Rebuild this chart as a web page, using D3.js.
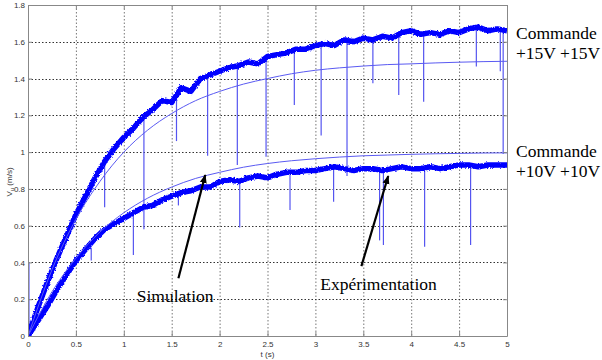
<!DOCTYPE html>
<html lang="en">
<head>
<meta charset="UTF-8">
<title>Vu response</title>
<script src="https://cdn.jsdelivr.net/npm/d3@7"></script>
</head>
<body style="margin:0; background:#fff">
<script>
// time base of the sampled traces (s)
const tExp = d3.range(0, 51).map(i => i / 10);
const tSim = d3.range(0, 21).map(i => i / 4);

// experimental traces, read every 0.1 s
const exp15 = [0.00, 0.15, 0.29, 0.42, 0.54, 0.66, 0.76, 0.86, 0.95, 1.02,
  1.08, 1.13, 1.19, 1.23, 1.28, 1.27, 1.35, 1.33, 1.40, 1.42,
  1.44, 1.46, 1.47, 1.49, 1.48, 1.52, 1.53, 1.54, 1.56, 1.56,
  1.58, 1.59, 1.58, 1.61, 1.60, 1.62, 1.61, 1.63, 1.62, 1.65,
  1.66, 1.64, 1.65, 1.64, 1.66, 1.65, 1.67, 1.68, 1.66, 1.67, 1.66];
const exp10 = [0.00, 0.08, 0.16, 0.25, 0.33, 0.41, 0.47, 0.53, 0.58, 0.61,
  0.64, 0.67, 0.70, 0.71, 0.74, 0.76, 0.78, 0.79, 0.81, 0.81,
  0.84, 0.85, 0.84, 0.86, 0.87, 0.86, 0.88, 0.89, 0.89, 0.90,
  0.90, 0.91, 0.92, 0.91, 0.90, 0.91, 0.91, 0.90, 0.91, 0.92,
  0.91, 0.91, 0.92, 0.91, 0.92, 0.93, 0.93, 0.92, 0.93, 0.93, 0.93];

// simulated traces, read every 0.25 s
const sim15 = [0, 0.36, 0.635, 0.84, 1.00, 1.12, 1.21, 1.28, 1.33, 1.37,
  1.40, 1.426, 1.445, 1.458, 1.468, 1.476, 1.48, 1.485, 1.489, 1.492, 1.494];
const sim10 = [0, 0.24, 0.423, 0.565, 0.67, 0.75, 0.81, 0.857, 0.89, 0.918,
  0.938, 0.953, 0.964, 0.973, 0.98, 0.984, 0.988, 0.991, 0.993, 0.995, 0.996];

// measurement glitches: [t, from, to]
const spikes15 = [[0.01, 0.40, 0.02], [0.80, 0.95, 0.70], [1.21, 1.19, 0.58], [1.55, 1.30, 1.06],
  [1.875, 1.42, 0.98], [2.185, 1.47, 0.93], [2.485, 1.52, 0.975], [2.78, 1.56, 1.256],
  [3.06, 1.59, 1.09], [3.33, 1.61, 0.87], [3.60, 1.62, 1.375], [3.87, 1.63, 1.31],
  [4.13, 1.65, 1.274], [4.68, 1.67, 1.465], [4.93, 1.67, 1.44], [4.96, 1.67, 0.99]];
const spikes10 = [[0.66, 0.48, 0.41], [1.10, 0.67, 0.44], [1.57, 0.78, 0.71], [2.21, 0.85, 0.59],
  [2.735, 0.89, 0.685], [3.19, 0.92, 0.73], [3.67, 0.91, 0.52], [3.71, 0.91, 0.495],
  [4.14, 0.92, 0.485], [4.62, 0.93, 0.495]];

const xTicks = [0, 0.5, 1, 1.5, 2, 2.5, 3, 3.5, 4, 4.5, 5];
const yTicks = [0, 0.2, 0.4, 0.6, 0.8, 1, 1.2, 1.4, 1.6, 1.8];

// annotations: arrow [t0, v0, t1, v1], text [t, v]
const arrows = [[1.57, 0.314, 1.85, 0.875], [3.48, 0.38, 3.76, 0.87]];
const notes = [["Simulation", 1.135, 0.185], ["Expérimentation", 3.05, 0.25]];
const sideLabels = [["Commande", 38.5], ["+15V +15V", 58.5], ["Commande", 157], ["+10V +10V", 177]];

const width = 602, height = 360;
const m = { left: 28, right: 95, top: 5, bottom: 24 };
const SANS = '"Liberation Sans", Arial, sans-serif';
const SERIF = '"Liberation Serif", "Times New Roman", serif';

const svg = d3.select("body").append("svg").attr("width", width).attr("height", height)
  .style("display", "block");

const x = d3.scaleLinear().domain([0, 5]).range([m.left, width - m.right]);
const y = d3.scaleLinear().domain([0, 1.8]).range([height - m.bottom, m.top]);

const defs = svg.append("defs");
defs.append("clipPath").attr("id", "plot")
  .append("rect").attr("x", x(0)).attr("y", y(1.8))
  .attr("width", x(5) - x(0)).attr("height", y(0) - y(1.8));

defs.append("marker").attr("id", "head")
  .attr("viewBox", "0 0 10 10").attr("refX", 9).attr("refY", 5)
  .attr("markerWidth", 4).attr("markerHeight", 4).attr("orient", "auto")
  .append("path").attr("d", "M0,1 L10,5 L0,9 Z").attr("fill", "#000");

// small jitter filter so the measured traces look noisy like the scope data
const f = defs.append("filter").attr("id", "noisy")
  .attr("x", "-5%").attr("y", "-5%").attr("width", "110%").attr("height", "110%");
f.append("feTurbulence").attr("type", "fractalNoise").attr("baseFrequency", "0.7")
  .attr("numOctaves", 2).attr("seed", 3).attr("result", "n");
f.append("feDisplacementMap").attr("in", "SourceGraphic").attr("in2", "n")
  .attr("scale", 3).attr("xChannelSelector", "R").attr("yChannelSelector", "G");

// grid
const grid = svg.append("g").attr("stroke", "#333").attr("stroke-width", 1)
  .attr("stroke-dasharray", "1.5,2");
grid.selectAll("line.v").data(xTicks.slice(1, -1)).join("line")
  .attr("x1", d => x(d) + 0.5).attr("x2", d => x(d) + 0.5)
  .attr("y1", y(1.8)).attr("y2", y(0)).attr("stroke", "#777");
grid.selectAll("line.h").data(yTicks.slice(1, -1)).join("line")
  .attr("y1", d => Math.round(y(d)) + 0.5).attr("y2", d => Math.round(y(d)) + 0.5)
  .attr("x1", x(0)).attr("x2", x(5));

// traces
const plot = svg.append("g").attr("clip-path", "url(#plot)");
const line = d3.line().x(d => x(d[0])).y(d => y(d[1]));
const simLine = d3.line().x(d => x(d[0])).y(d => y(d[1])).curve(d3.curveMonotoneX);

const allSpikes = spikes15.concat(spikes10);
plot.selectAll("line.spike").data(allSpikes).join("line")
  .attr("class", "spike")
  .attr("x1", d => x(d[0])).attr("x2", d => x(d[0]))
  .attr("y1", d => y(d[1])).attr("y2", d => y(d[2]))
  .attr("stroke", "#5555f0").attr("stroke-width", 1.2);

[exp15, exp10].forEach(s => {
  plot.append("path")
    .attr("d", line(tExp.map((t, i) => [t, s[i]])))
    .attr("fill", "none").attr("stroke", "#0000ff").attr("stroke-width", 5.5)
    .attr("stroke-linejoin", "round").attr("filter", "url(#noisy)");
});

[sim15, sim10].forEach(s => {
  plot.append("path")
    .attr("d", simLine(tSim.map((t, i) => [t, s[i]])))
    .attr("fill", "none").attr("stroke", "#5a5af2").attr("stroke-width", 1);
});

// axes
const axisCol = "#888";
const fmt = d => String(d);
const ax = [
  svg.append("g").attr("transform", `translate(0,${y(0)})`)
    .call(d3.axisBottom(x).tickValues(xTicks).tickFormat(fmt).tickSizeInner(-4).tickSizeOuter(0).tickPadding(5)),
  svg.append("g").attr("transform", `translate(${x(0)},0)`)
    .call(d3.axisLeft(y).tickValues(yTicks).tickFormat(fmt).tickSizeInner(-4).tickSizeOuter(0).tickPadding(3)),
  svg.append("g").attr("transform", `translate(0,${y(1.8)})`)
    .call(d3.axisTop(x).tickValues(xTicks).tickFormat("").tickSizeInner(-4).tickSizeOuter(0)),
  svg.append("g").attr("transform", `translate(${x(5)},0)`)
    .call(d3.axisRight(y).tickValues(yTicks).tickFormat("").tickSizeInner(-4).tickSizeOuter(0))
];
ax.forEach(g => {
  g.select(".domain").attr("stroke", axisCol);
  g.selectAll(".tick line").attr("stroke", axisCol);
  g.selectAll("text").style("font-family", SANS).attr("font-size", 8).attr("fill", "#333");
});

svg.append("text").style("font-family", SANS).attr("x", (x(0) + x(5)) / 2).attr("y", 357)
  .attr("text-anchor", "middle").attr("font-size", 8).attr("fill", "#333").text("t (s)");

const yl = svg.append("text").style("font-family", SANS).attr("transform", `translate(12,182) rotate(-90)`)
  .attr("text-anchor", "middle").attr("font-size", 8).attr("fill", "#333");
yl.append("tspan").text("V");
yl.append("tspan").attr("font-size", 6).attr("dy", 2).text("u");
yl.append("tspan").attr("dy", -2).text(" (m/s)");

// annotations
svg.selectAll("line.arrow").data(arrows).join("line")
  .attr("x1", d => x(d[0])).attr("y1", d => y(d[1]))
  .attr("x2", d => x(d[2])).attr("y2", d => y(d[3]))
  .attr("stroke", "#000").attr("stroke-width", 2.2).attr("marker-end", "url(#head)");

svg.selectAll("text.note").data(notes).join("text")
  .style("font-family", SERIF)
  .attr("x", d => x(d[1])).attr("y", d => y(d[2]))
  .attr("font-size", 17.5).attr("fill", "#000")
  .text(d => d[0]);

svg.selectAll("text.side").data(sideLabels).join("text")
  .style("font-family", SERIF)
  .attr("x", 516).attr("y", d => d[1])
  .attr("font-size", 17.5).attr("fill", "#000")
  .text(d => d[0]);
</script>
</body>
</html>
